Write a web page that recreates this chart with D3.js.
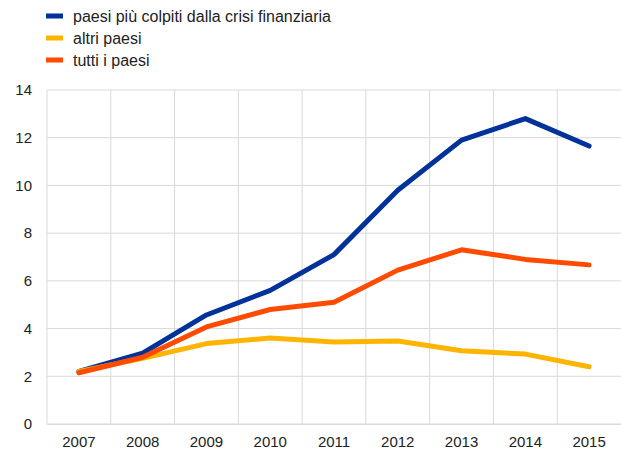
<!DOCTYPE html>
<html>
<head>
<meta charset="utf-8">
<script src="https://cdn.jsdelivr.net/npm/d3@7"></script>
<style>
  body { margin: 0; background: #fff; }
  text { font-family: "Liberation Sans", Arial, sans-serif; fill: #222; }
</style>
</head>
<body>
<script>
// data
var years = ["2007", "2008", "2009", "2010", "2011", "2012", "2013", "2014", "2015"];
var colpiti = [2.2, 2.97, 4.57, 5.6, 7.1, 9.8, 11.9, 12.8, 11.65];
var altri = [2.2, 2.75, 3.37, 3.6, 3.44, 3.48, 3.07, 2.93, 2.4];
var tutti = [2.15, 2.8, 4.07, 4.8, 5.1, 6.45, 7.3, 6.9, 6.67];
var yTicks = [0, 2, 4, 6, 8, 10, 12, 14];

var seriesNames = ["paesi più colpiti dalla crisi finanziaria", "altri paesi", "tutti i paesi"];
var seriesColors = ["#003299", "#ffb400", "#ff4b00"];
var seriesValues = [colpiti, altri, tutti];

var w = 621, h = 452;
var plotLeft = 47, plotRight = 621, plotTop = 90, plotBottom = 424;
var fontFam = "'Liberation Sans', Arial, sans-serif";

var svg = d3.select("body").append("svg")
    .attr("width", w)
    .attr("height", h);

// scales
var x = d3.scaleBand().domain(years).range([plotLeft, plotRight]);
var y = d3.scaleLinear().domain([0, 14]).range([plotBottom, plotTop]);

// grid
svg.append("g").selectAll("line")
    .data(yTicks)
    .enter().append("line")
    .attr("x1", plotLeft).attr("x2", plotRight)
    .attr("y1", function(d) { return y(d); })
    .attr("y2", function(d) { return y(d); })
    .attr("stroke", "#d9d9d9").attr("stroke-width", 1);

svg.append("g").selectAll("line")
    .data(years)
    .enter().append("line")
    .attr("x1", function(d) { return x(d); })
    .attr("x2", function(d) { return x(d); })
    .attr("y1", plotTop).attr("y2", plotBottom)
    .attr("stroke", "#d9d9d9").attr("stroke-width", 1);

// y axis labels
var yAxis = svg.append("g")
    .attr("transform", "translate(" + plotLeft + ",0)")
    .call(d3.axisLeft(y).tickValues(yTicks).tickSize(0).tickPadding(15));
yAxis.select(".domain").remove();
yAxis.selectAll("text").style("font-size", "15px").attr("fill", "#222")
    .style("font-family", fontFam);

// x axis labels
var xAxis = svg.append("g")
    .attr("transform", "translate(0," + plotBottom + ")")
    .call(d3.axisBottom(x).tickSize(0).tickPadding(12));
xAxis.select(".domain").attr("stroke", "#d9d9d9");
xAxis.selectAll("text").style("font-size", "15px").attr("fill", "#222")
    .style("font-family", fontFam);

// lines
var line = d3.line()
    .x(function(d, i) { return x(years[i]) + x.bandwidth() / 2; })
    .y(function(d) { return y(d); });

svg.append("g").selectAll("path")
    .data(seriesValues)
    .enter().append("path")
    .attr("d", function(d) { return line(d); })
    .attr("fill", "none")
    .attr("stroke", function(d, i) { return seriesColors[i]; })
    .attr("stroke-width", 5)
    .attr("stroke-linecap", "round")
    .attr("stroke-linejoin", "round");

// legend
var legend = svg.append("g").selectAll("g")
    .data(seriesNames)
    .enter().append("g")
    .attr("transform", function(d, i) { return "translate(46," + (16 + i * 22) + ")"; });

legend.append("rect")
    .attr("x", 0).attr("y", -2.5)
    .attr("width", 17).attr("height", 5)
    .attr("fill", function(d, i) { return seriesColors[i]; });

legend.append("text")
    .attr("x", 27).attr("y", 6)
    .style("font-size", "16px")
    .text(function(d) { return d; });
</script>
</body>
</html>
